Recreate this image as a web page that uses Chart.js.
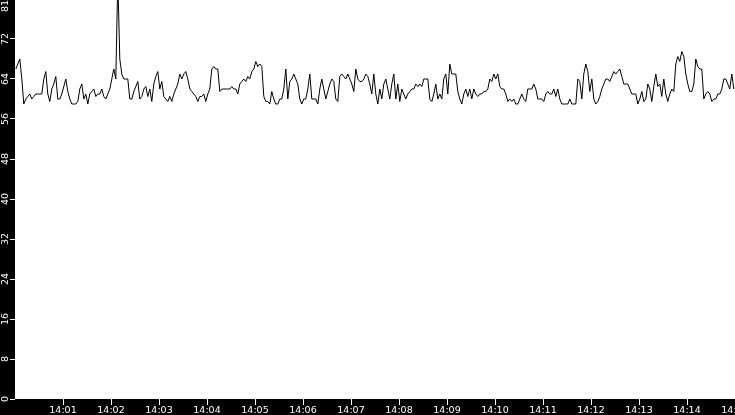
<!DOCTYPE html>
<html>
<head>
<meta charset="utf-8">
<title>Load 14:00 - 14:15</title>
<script src="https://cdn.jsdelivr.net/npm/chart.js@4.4.1/dist/chart.umd.min.js"></script>
<style>
  html, body { margin: 0; padding: 0; background: #000; overflow: hidden; }
  #wrap { width: 735px; height: 415px; position: relative; }
</style>
</head>
<body>
<div id="wrap"><canvas id="loadChart"></canvas></div>
<script>
/* ============================================================
   DATA  (one sample every 2.5 s, starting 14:00:01)
   ============================================================ */
const START_SEC = 1;
const STEP_SEC  = 2.5;

// 14:00:01 - 14:04:54
const loadPart1 = [
  66,67,68,64,59,60,60.5,61,60,60.5,
  61,61,61,61,64,65.5,61,59.5,62,63,
  64.5,60,60,61,62.5,64,61.5,60,59,59,
  59,59.5,62,63,60,61,59,61,61.5,62,
  60.5,61,61,62,60.5,60,61,62,64,66,
  64,84,68,65,64,64,64,60,60,61.5,
  62.5,63.5,60,60.5,62,62.5,60.5,62,59.5,63,
  64.5,65.5,62,63.5,60.5,60,59.5,60.5,59.5,61,
  62,63,65,64,65,65.5,64,62,61.5,61,
  60.5,59.5,60.5,60.5,61,59.5,61,62,66,66.5,
  66,66,61.5,62,62,62,62,62,62.5,62,
  62,61,63,63.5,64,63.5,64.5,64
];
// 14:04:56 - 14:06:46
const loadPart2 = [
  65.5,66,67.5,66.5,67,66.5,60.5,59.5,59.5,59,
  61.5,60,59,59,60,60,62,66,60,63.5,
  64,65,64,63,60,59,60,60,62,65,
  60,60,60,59,62,64,62,60,61.5,63,
  64,63.5,60,59.5,64.5
];
// 14:06:49 - 14:08:51
const loadPart3 = [
  65,64.5,64,65,64,63,61.5,66,64,63.5,
  63.5,64,65,64.5,63,61,65,61,59,62,
  60,63,64,62,60,63,65,60,63,59.5,
  62,61,60,61,61.5,62,62,63,62.5,63,
  62.5,64,64,64,60,59.5,61,63,60,61
];
// 14:08:54 - 14:10:56
const loadPart4 = [
  60,64,65,61,67,65,65,65,61.5,60,
  59,61,62,60.5,62,60,62,61,60.5,61,
  61,61.5,61.5,62,64,63.5,65,64,65,62.5,
  62,62,61,59.5,60,59.5,60,59,59,60,
  61,60,59.5,62,62,62,63,62,60,60
];
// 14:10:59 - 14:13:01
const loadPart5 = [
  60,59.5,61,61.5,61,61,62,60.5,62,60,
  59,59,59,59,60,59,59,59,64,63.5,
  60,65,67,65.5,61.5,64,60,59,59.5,60.5,
  62,63,64,64,63.5,64.5,65.5,65,65.5,66,
  64.5,63,63,63,62,61,61,61,59,60
];
// 14:13:04 - 14:14:59
const loadPart6 = [
  61.5,59.5,60,63,62,59.5,62.5,65,62.5,63,
  60.5,64,61,59.5,61,62,61.5,67,68.5,67.5,
  69.5,68.5,65,63,61.5,61.5,63,68,66.5,66,
  66,60,61,61.5,61,59.5,60,60,61,61,
  62,64,64,63,62,65,62
];

const loadValues = [...loadPart1, ...loadPart2, ...loadPart3, ...loadPart4, ...loadPart5, ...loadPart6];

// axis ticks
const xTickSeconds = [60,120,180,240,300,360,420,480,540,600,660,720,780,840,900];
const xTickLabels  = ['14:01','14:02','14:03','14:04','14:05','14:06','14:07','14:08',
                      '14:09','14:10','14:11','14:12','14:13','14:14','14:15'];
const yTickValues  = [0,8,16,24,32,40,48,56,64,72,78.6];
const yTickLabels  = ['0','8','16','24','32','40','48','56','64','72','81'];

/* ============================================================
   CHART
   ============================================================ */

/** Black canvas, white plotting area. */
const plotBackground = {
  id: 'plotBackground',
  beforeDraw(chart) {
    const { ctx, chartArea: a, width, height } = chart;
    ctx.save();
    ctx.fillStyle = '#000';
    ctx.fillRect(0, 0, width, height);
    ctx.fillStyle = '#fff';
    ctx.fillRect(a.left, a.top, a.right - a.left, a.bottom - a.top);
    ctx.restore();
  }
};

const tickFont = { family: 'DejaVu Sans', size: 9.5 };

new Chart(document.getElementById('loadChart'), {
  type: 'line',
  data: {
    datasets: [{
      data: loadValues.map((v, i) => ({ x: START_SEC + i * STEP_SEC, y: v })),
      borderColor: '#000',
      borderWidth: 1,
      pointRadius: 0,
      tension: 0,
      fill: false
    }]
  },
  options: {
    responsive: true, maintainAspectRatio: false,
    animation: false,
    layout: { padding: 0 },
    plugins: { legend: { display: false }, tooltip: { enabled: false } },
    scales: {
      x: {
        type: 'linear', min: 0, max: 900,
        afterBuildTicks: s => { s.ticks = xTickSeconds.map(v => ({ value: v })); },
        afterFit: s => { s.height = 16; s.paddingLeft = 0; s.paddingRight = 0; },
        ticks: {
          autoSkip: false, maxRotation: 0, minRotation: 0,
          color: '#fff', font: tickFont, padding: 0,
          callback: v => xTickLabels[xTickSeconds.indexOf(v)] ?? ''
        },
        grid: { drawOnChartArea: false, drawTicks: true, tickLength: 6, tickColor: '#fff' },
        border: { display: false }
      },
      y: {
        type: 'linear', min: 0, max: 79.8,
        afterBuildTicks: s => { s.ticks = yTickValues.map(v => ({ value: v })); },
        afterFit: s => { s.width = 15; s.paddingTop = 0; s.paddingBottom = 0; },
        ticks: {
          autoSkip: false, minRotation: 90, maxRotation: 90,
          crossAlign: 'center', padding: -2,
          color: '#fff', font: tickFont,
          callback: v => yTickLabels[yTickValues.indexOf(v)] ?? ''
        },
        grid: {
          drawOnChartArea: false, drawTicks: true, tickLength: 5,
          tickColor: c => (c.tick && c.tick.value > 75 ? 'rgba(0,0,0,0)' : '#fff')
        },
        border: { display: false }
      }
    }
  },
  plugins: [plotBackground]
});
</script>
</body>
</html>
